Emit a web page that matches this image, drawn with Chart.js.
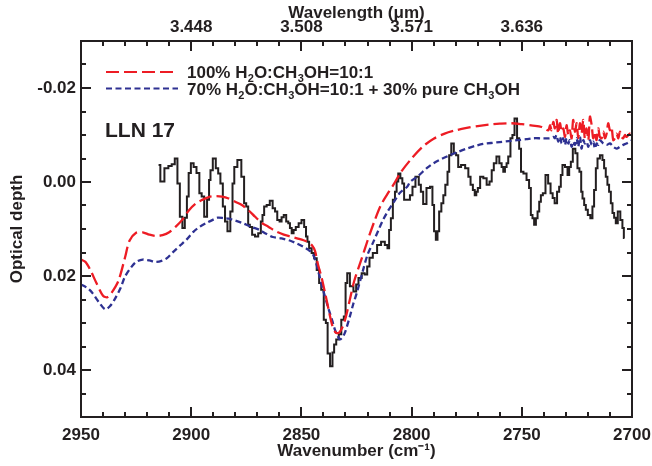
<!DOCTYPE html>
<html>
<head>
<meta charset="utf-8">
<script src="https://cdn.jsdelivr.net/npm/chart.js@4.4.0/dist/chart.umd.min.js"></script>
<style>
  html, body { margin: 0; padding: 0; background: #fff; }
  canvas { display: block; }
</style>
</head>
<body>
<canvas id="spectrum" width="652" height="466"></canvas>
<script>
// observed spectrum of LLN 17 (histogram)
const obsWavenumber = [2914.8, 2913.2, 2911.1, 2909.6, 2908.1, 2906.8, 2905.7, 2904.6, 2903.4, 2902.4,
  2901.5, 2900.8, 2899.5, 2898.3, 2896.9, 2895.7, 2894.8, 2893.4, 2892.2, 2891.6,
  2890.9, 2889.5, 2888.2, 2887.3, 2886.2, 2885.1, 2884.2, 2882.9, 2881.6, 2880.9,
  2880.0, 2878.1, 2876.4, 2875.6, 2874.5, 2873.8, 2873.0, 2871.7, 2870.4, 2868.8,
  2868.0, 2867.3, 2866.5, 2865.0, 2863.7, 2862.4, 2861.5, 2860.4, 2859.4, 2858.6,
  2857.4, 2856.4, 2855.5, 2854.9, 2853.9, 2853.2, 2851.9, 2850.6, 2849.3, 2848.2,
  2847.6, 2846.9, 2846.1, 2844.6, 2843.8, 2842.3, 2841.6, 2840.4, 2839.3, 2838.5,
  2837.7, 2836.3, 2835.5, 2834.8, 2833.6, 2832.5, 2831.3, 2830.2, 2829.7, 2828.7,
  2827.3, 2825.5, 2824.8, 2823.4, 2821.9, 2820.7, 2819.6, 2818.6, 2816.6, 2814.7,
  2813.0, 2811.3, 2810.6, 2809.8, 2809.0, 2808.0, 2807.1, 2806.5, 2805.6, 2804.6,
  2803.8, 2803.0, 2801.5, 2800.0, 2799.2, 2797.3, 2796.2, 2795.4, 2794.1, 2792.4,
  2790.9, 2790.2, 2789.4, 2788.6, 2787.9, 2787.1, 2785.9, 2785.3, 2784.1, 2783.3,
  2782.6, 2781.4, 2780.3, 2779.3, 2778.4, 2776.7, 2774.7, 2773.8, 2772.7, 2771.7,
  2771.0, 2770.3, 2769.6, 2768.2, 2766.7, 2765.2, 2764.1, 2763.2, 2762.2, 2760.8,
  2759.6, 2758.7, 2758.1, 2757.2, 2756.6, 2755.7, 2754.6, 2753.9, 2752.7, 2751.6,
  2750.8, 2749.9, 2748.6, 2747.1, 2746.3, 2745.5, 2744.8, 2744.0, 2743.2, 2742.5,
  2741.7, 2741.0, 2739.9, 2738.6, 2737.5, 2736.4, 2735.6, 2734.6, 2733.4, 2732.7,
  2731.9, 2731.2, 2729.6, 2728.9, 2728.1, 2727.4, 2726.3, 2725.1, 2724.4, 2723.3,
  2722.8, 2722.1, 2721.3, 2720.6, 2719.5, 2718.3, 2717.6, 2716.8, 2716.0, 2715.3,
  2713.8, 2713.0, 2712.3, 2711.5, 2710.8, 2710.0, 2709.2, 2708.5, 2707.7, 2707.0,
  2705.9, 2704.7, 2704.0, 2703.4];
const obsDepth = [-0.0036, -0.0001, -0.0029, -0.0034, -0.0038, -0.0050, 0.0003, 0.0074, 0.0098, 0.0076,
  0.0031, -0.0019, -0.0040, -0.0032, -0.0019, 0.0024, 0.0031, 0.0074, 0.0038, -0.0004,
  -0.0025, -0.0050, -0.0029, -0.0018, 0.0003, 0.0052, 0.0084, 0.0105, 0.0063, 0.0003,
  -0.0032, -0.0047, -0.0011, 0.0045, 0.0052, 0.0091, 0.0096, 0.0112, 0.0116, 0.0109,
  0.0084, 0.0070, 0.0052, 0.0049, 0.0040, 0.0056, 0.0063, 0.0081, 0.0084, 0.0075,
  0.0070, 0.0084, 0.0088, 0.0098, 0.0109, 0.0102, 0.0096, 0.0088, 0.0081, 0.0096,
  0.0116, 0.0127, 0.0141, 0.0151, 0.0162, 0.0187, 0.0215, 0.0229, 0.0293, 0.0300,
  0.0365, 0.0392, 0.0363, 0.0346, 0.0335, 0.0324, 0.0293, 0.0286, 0.0215, 0.0194,
  0.0222, 0.0233, 0.0218, 0.0204, 0.0194, 0.0197, 0.0180, 0.0161, 0.0151, 0.0134,
  0.0127, 0.0134, 0.0141, 0.0102, 0.0077, 0.0038, 0.0021, -0.0001, -0.0018, -0.0008,
  0.0003, 0.0038, 0.0038, 0.0028, 0.0010, -0.0011, 0.0006, 0.0021, 0.0047, 0.0013,
  0.0010, 0.0049, 0.0105, 0.0123, 0.0105, 0.0063, 0.0045, 0.0028, 0.0006, -0.0022,
  -0.0057, -0.0082, -0.0061, -0.0057, -0.0032, -0.0036, -0.0029, -0.0011, 0.0006, 0.0017,
  0.0028, 0.0021, 0.0013, -0.0011, -0.0008, 0.0006, -0.0001, -0.0025, -0.0040, -0.0054,
  -0.0040, -0.0032, -0.0022, -0.0032, -0.0040, -0.0054, -0.0093, -0.0100, -0.0135, -0.0093,
  -0.0071, -0.0022, -0.0018, -0.0004, 0.0013, 0.0070, 0.0077, 0.0091, 0.0077, 0.0063,
  0.0042, 0.0028, 0.0024, -0.0015, 0.0003, 0.0024, 0.0034, 0.0045, 0.0021, 0.0010,
  -0.0015, -0.0036, -0.0032, -0.0015, -0.0032, -0.0043, -0.0071, -0.0061, -0.0029, -0.0022,
  0.0021, 0.0035, 0.0049, 0.0059, 0.0070, 0.0077, 0.0052, 0.0017, -0.0029, -0.0050,
  -0.0057, -0.0047, -0.0029, -0.0011, 0.0006, 0.0021, 0.0045, 0.0066, 0.0076, 0.0088,
  0.0063, 0.0081, 0.0098, 0.0119];

// model: 100% H2O:CH3OH=10:1
const model1Wavenumber = [2950, 2948, 2946, 2943, 2940, 2938, 2936, 2933, 2930, 2928,
  2925, 2922, 2919, 2916, 2913, 2910, 2907, 2904, 2901, 2898,
  2895, 2892, 2889, 2886, 2883, 2880, 2877, 2874, 2871, 2868,
  2865, 2862, 2858, 2855, 2852, 2849, 2847, 2845, 2843.8, 2842.5,
  2841, 2839.3, 2837.5, 2836, 2834.5, 2833, 2831.5, 2830, 2828, 2826,
  2823, 2820, 2817, 2814, 2811, 2808, 2805, 2800, 2795, 2790,
  2785, 2780, 2775, 2770, 2765, 2760, 2755, 2750, 2745, 2741,
  2738.0, 2737.2, 2736.5, 2735.7, 2735.0, 2734.2, 2733.5, 2732.7, 2731.9, 2731.2,
  2730.4, 2729.7, 2728.9, 2728.2, 2727.4, 2726.7, 2725.9, 2725.1, 2724.4, 2723.6,
  2722.9, 2722.1, 2721.4, 2720.6, 2719.8, 2719.1, 2718.3, 2717.6, 2716.8, 2716.1,
  2715.3, 2714.6, 2713.8, 2713.0, 2712.3, 2711.5, 2710.8, 2710.0, 2709.3, 2708.5,
  2707.8, 2707.0, 2706.2, 2705.5, 2704.7, 2704.0, 2703.2, 2702.5, 2701.0, 2700.2];
const model1Depth = [0.0165, 0.0170, 0.0185, 0.0215, 0.0242, 0.0245, 0.0235, 0.0210, 0.0160, 0.0125,
  0.0108, 0.0107, 0.0112, 0.0115, 0.0113, 0.0107, 0.0095, 0.0080, 0.0060, 0.0046,
  0.0038, 0.0032, 0.0030, 0.0031, 0.0035, 0.0042, 0.0049, 0.0060, 0.0074, 0.0087,
  0.0095, 0.0104, 0.0112, 0.0116, 0.0120, 0.0124, 0.0128, 0.0136, 0.0147, 0.0175,
  0.0200, 0.0235, 0.0275, 0.0305, 0.0320, 0.0321, 0.0310, 0.0290, 0.0250, 0.0210,
  0.0168, 0.0125, 0.0085, 0.0050, 0.0026, 0.0004, -0.0020, -0.0050, -0.0075, -0.0092,
  -0.0103, -0.0110, -0.0115, -0.0119, -0.0122, -0.0124, -0.0125, -0.0123, -0.0120, -0.0117,
  -0.0110, -0.0121, -0.0110, -0.0128, -0.0114, -0.0132, -0.0103, -0.0125, -0.0107, -0.0114,
  -0.0096, -0.0121, -0.0100, -0.0110, -0.0093, -0.0132, -0.0107, -0.0125, -0.0093, -0.0125,
  -0.0103, -0.0132, -0.0093, -0.0114, -0.0089, -0.0139, -0.0121, -0.0093, -0.0107, -0.0089,
  -0.0114, -0.0096, -0.0093, -0.0107, -0.0093, -0.0103, -0.0125, -0.0110, -0.0117, -0.0089,
  -0.0093, -0.0103, -0.0093, -0.0107, -0.0096, -0.0093, -0.0100, -0.0096, -0.0103, -0.0100];

// model: 70% H2O:CH3OH=10:1 + 30% pure CH3OH
const model2Wavenumber = [2950, 2947, 2945, 2942, 2939, 2937, 2935, 2932, 2930, 2927,
  2925, 2922, 2919, 2916, 2913, 2911, 2908, 2905, 2902, 2899,
  2896, 2893, 2890, 2888, 2885, 2883, 2880, 2877, 2873, 2869,
  2866, 2863, 2859, 2855, 2852, 2849, 2847, 2845, 2843.5, 2842.5,
  2840.2, 2838, 2836, 2834.8, 2833.5, 2832.5, 2831.3, 2830.2, 2828, 2826.5,
  2824.8, 2822, 2820, 2817.5, 2815, 2813, 2810.5, 2808.4, 2805.3, 2802,
  2800.7, 2797, 2793, 2790, 2786, 2782.6, 2779, 2775, 2771, 2767.6,
  2764, 2760, 2756, 2752, 2748, 2744.9, 2741, 2738.5,
  2737.2, 2735.7, 2735.0, 2734.2, 2733.5, 2732.7, 2731.9, 2731.2, 2730.4, 2729.7,
  2728.9, 2728.2, 2727.4, 2726.7, 2725.9, 2725.1, 2724.4, 2723.6, 2722.9, 2722.1,
  2721.4, 2720.6, 2719.8, 2719.1, 2718.3, 2717.6, 2716.8, 2716.1, 2715.3, 2714.6,
  2713.0, 2711.5, 2710.0, 2708.5, 2707.0, 2705.5, 2704.0, 2702.5, 2701.0, 2700.0];
const model2Depth = [0.0218, 0.0226, 0.0235, 0.0255, 0.0271, 0.0265, 0.0252, 0.0225, 0.0201, 0.0180,
  0.0170, 0.0165, 0.0167, 0.0170, 0.0167, 0.0162, 0.0148, 0.0135, 0.0122, 0.0106,
  0.0095, 0.0087, 0.0080, 0.0076, 0.0077, 0.0078, 0.0082, 0.0087, 0.0095, 0.0102,
  0.0110, 0.0117, 0.0120, 0.0125, 0.0131, 0.0138, 0.0144, 0.0152, 0.0170, 0.0187,
  0.0229, 0.0265, 0.0295, 0.0314, 0.0328, 0.0335, 0.0330, 0.0320, 0.0286, 0.0260,
  0.0235, 0.0187, 0.0155, 0.0129, 0.0102, 0.0081, 0.0060, 0.0045, 0.0023, 0.0010,
  0.0000, -0.0013, -0.0030, -0.0040, -0.0050, -0.0057, -0.0064, -0.0071, -0.0077, -0.0081,
  -0.0083, -0.0085, -0.0087, -0.0089, -0.0091, -0.0093, -0.0093, -0.0093,
  -0.0093, -0.0096, -0.0093, -0.0100, -0.0086, -0.0096, -0.0082, -0.0093, -0.0079, -0.0093,
  -0.0082, -0.0089, -0.0075, -0.0086, -0.0079, -0.0093, -0.0075, -0.0096, -0.0071, -0.0089,
  -0.0082, -0.0086, -0.0075, -0.0089, -0.0079, -0.0086, -0.0071, -0.0082, -0.0079, -0.0089,
  -0.0082, -0.0079, -0.0082, -0.0075, -0.0071, -0.0075, -0.0079, -0.0082, -0.0086, -0.0089];

const bottomTickValues = [2950, 2900, 2850, 2800, 2750, 2700];
const topTickValues = [2900, 2850, 2800, 2750];
const topTickLabels = ['3.448', '3.508', '3.571', '3.636'];
const depthTickValues = [-0.02, 0.00, 0.02, 0.04];

const FONT = "'Liberation Sans', Arial, Helvetica, sans-serif";
const RED = '#ed1c24';
const BLUE = '#2e3192';
const BLACK = '#231f20';

function toPoints(xs, ys) {
  return xs.map((x, i) => ({ x: x, y: ys[i] }));
}

// pin the box sizes so the plot frame lands where the reference has it
function pinHeight(h) {
  return s => { s.height = h; s.paddingLeft = 0; s.paddingRight = 0; };
}
function pinWidth(w) {
  return s => { s.width = w; s.paddingTop = 0; s.paddingBottom = 0; };
}

const legendEntries = [
  { color: RED, dash: [13, 5], parts: [['100% H', 0], ['2', 1], ['O:CH', 0], ['3', 1], ['OH=10:1', 0]] },
  { color: BLUE, dash: [6, 3.5], parts: [['70% H', 0], ['2', 1], ['O:CH', 0], ['3', 1], ['OH=10:1 + 30% pure CH', 0], ['3', 1], ['OH', 0]] }
];

// frame, inward minor/major ticks, legend and label
const frameAndLegend = {
  id: 'frameAndLegend',
  afterDatasetsDraw(chart) {
    const { ctx, chartArea: a, scales } = chart;
    const xs = scales.x, ys = scales.y;
    ctx.save();
    ctx.strokeStyle = BLACK;
    ctx.lineWidth = 2;
    ctx.setLineDash([]);
    ctx.strokeRect(a.left, a.top, a.right - a.left, a.bottom - a.top);

    ctx.beginPath();
    for (let w = 2700; w <= 2950; w += 10) {
      const px = Math.round(xs.getPixelForValue(w));
      const len = (w % 50 === 0) ? 10 : 5;
      ctx.moveTo(px, a.bottom); ctx.lineTo(px, a.bottom - len);
      ctx.moveTo(px, a.top); ctx.lineTo(px, a.top + len);
    }
    for (let k = -6; k <= 10; k++) {
      const v = k * 0.005;
      const py = Math.round(ys.getPixelForValue(v));
      const len = (k % 4 === 0) ? 10 : 5;
      ctx.moveTo(a.left, py); ctx.lineTo(a.left + len, py);
      ctx.moveTo(a.right, py); ctx.lineTo(a.right - len, py);
    }
    ctx.stroke();

    // legend
    const mainFont = 'bold 17px ' + FONT;
    const subFont = 'bold 11px ' + FONT;
    legendEntries.forEach((e, i) => {
      const y = 72 + i * 16.5;
      ctx.strokeStyle = e.color;
      ctx.lineWidth = 2.2;
      ctx.setLineDash(e.dash);
      ctx.beginPath();
      ctx.moveTo(106, y); ctx.lineTo(178, y);
      ctx.stroke();
      ctx.setLineDash([]);
      ctx.fillStyle = BLACK;
      ctx.textBaseline = 'alphabetic';
      ctx.textAlign = 'left';
      let tx = 187;
      e.parts.forEach(([t, sub]) => {
        ctx.font = sub ? subFont : mainFont;
        ctx.fillText(t, tx, y + 6 + (sub ? 4 : 0));
        tx += ctx.measureText(t).width + (sub ? 0 : 0.3);
      });
    });

    ctx.font = 'bold 21px ' + FONT;
    ctx.fillStyle = BLACK;
    ctx.textAlign = 'left';
    ctx.textBaseline = 'alphabetic';
    ctx.fillText('LLN 17', 105, 137);
    ctx.restore();
  }
};

const tickFont = { family: FONT, size: 17, weight: 'bold' };

new Chart(document.getElementById('spectrum'), {
  type: 'line',
  data: {
    datasets: [
      {
        label: '100% H2O:CH3OH=10:1',
        data: toPoints(model1Wavenumber, model1Depth),
        borderColor: RED,
        borderWidth: 2.3,
        borderDash: [13, 5],
        pointRadius: 0,
        tension: 0.3,
        fill: false
      },
      {
        label: '70% H2O:CH3OH=10:1 + 30% pure CH3OH',
        data: toPoints(model2Wavenumber, model2Depth),
        borderColor: BLUE,
        borderWidth: 2.3,
        borderDash: [6, 3.5],
        pointRadius: 0,
        tension: 0.3,
        fill: false
      },
      {
        label: 'LLN 17',
        data: toPoints(obsWavenumber, obsDepth),
        borderColor: BLACK,
        borderWidth: 2,
        stepped: 'middle',
        pointRadius: 0,
        fill: false
      }
    ]
  },
  options: {
    responsive: false,
    animation: false,
    devicePixelRatio: 1,
    layout: { padding: 0, autoPadding: false },
    plugins: {
      legend: { display: false },
      tooltip: { enabled: false }
    },
    scales: {
      x: {
        type: 'linear',
        position: 'bottom',
        reverse: true,
        min: 2700,
        max: 2950,
        afterBuildTicks: s => { s.ticks = bottomTickValues.map(v => ({ value: v })); },
        afterFit: pinHeight(49),
        grid: { display: false, drawTicks: false },
        border: { display: false },
        ticks: {
          autoSkip: false, maxRotation: 0, padding: 8,
          color: BLACK, font: tickFont,
          callback: v => String(v)
        },
        title: {
          display: true, text: 'Wavenumber (cm⁻¹)', color: BLACK,
          font: tickFont, padding: { top: 0, bottom: 4 }
        }
      },
      x2: {
        type: 'linear',
        position: 'top',
        reverse: true,
        min: 2700,
        max: 2950,
        afterBuildTicks: s => { s.ticks = topTickValues.map(v => ({ value: v })); },
        afterFit: pinHeight(41),
        grid: { display: false, drawTicks: false },
        border: { display: false },
        ticks: {
          autoSkip: false, maxRotation: 0, padding: 3,
          color: BLACK, font: tickFont,
          callback: (v, i) => topTickLabels[i]
        },
        title: {
          display: true, text: 'Wavelength (μm)', color: BLACK,
          font: tickFont, padding: { top: 3, bottom: 0 }
        }
      },
      y: {
        type: 'linear',
        position: 'left',
        reverse: true,
        min: -0.03,
        max: 0.05,
        afterBuildTicks: s => { s.ticks = depthTickValues.map(v => ({ value: v })); },
        afterFit: pinWidth(81),
        grid: { display: false, drawTicks: false },
        border: { display: false },
        ticks: {
          autoSkip: false, padding: 5,
          color: BLACK, font: tickFont,
          callback: v => v.toFixed(2)
        },
        title: {
          display: true, text: 'Optical depth', color: BLACK,
          font: tickFont, padding: { top: 7, bottom: 0 }
        }
      },
      y2: {
        type: 'linear',
        position: 'right',
        reverse: true,
        min: -0.03,
        max: 0.05,
        afterFit: pinWidth(20),
        grid: { display: false, drawTicks: false },
        border: { display: false },
        ticks: { display: false }
      }
    }
  },
  plugins: [frameAndLegend]
});
</script>
</body>
</html>
